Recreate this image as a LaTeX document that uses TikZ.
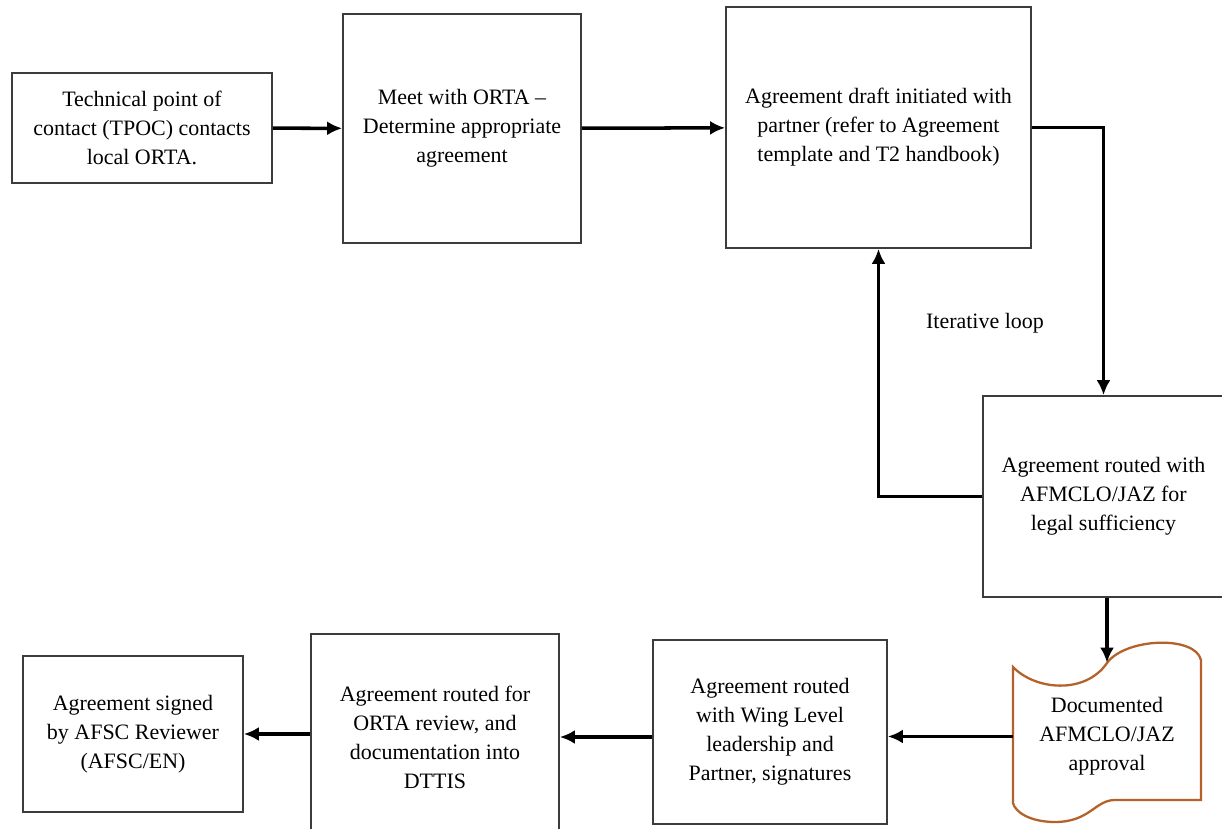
\documentclass[tikz,border=0pt]{standalone}
\usepackage{fontspec}
\setmainfont{Liberation Serif}
\usetikzlibrary{arrows.meta}
\definecolor{docbrown}{HTML}{B5622A}
\definecolor{boxgray}{HTML}{3C3C3C}
\begin{document}
\begin{tikzpicture}[font=\fontsize{12.5}{16.5}\selectfont,
    main/.style = {draw=boxgray, line width=1pt, align=center, inner sep=0pt},
    conn/.style = {line width=2pt, -{Latex[length=3mm,width=2.8mm]}}]
    \useasboundingbox (0,0) rectangle (24.44,-16.58);
    \node[main, minimum width=5.2cm, minimum height=2.2cm] (1) at (2.84,-2.56) {Technical point of\\contact (TPOC) contacts\\local ORTA.};
    \node[main, minimum width=4.76cm, minimum height=4.58cm] (2) at (9.24,-2.57) {Meet with ORTA --\\Determine appropriate\\agreement};
    \node[main, minimum width=6.1cm, minimum height=4.82cm] (3) at (17.57,-2.55) {Agreement draft initiated with\\partner (refer to Agreement\\template and T2 handbook)};
    \node[main, minimum width=4.82cm, minimum height=4.02cm] (4) at (22.07,-9.93) {Agreement routed with\\AFMCLO/JAZ for\\legal sufficiency};
    \node[align=center, minimum width=3.76cm, minimum height=2.94cm, inner sep=0pt] (5) at (22.14,-14.73) {Documented\\AFMCLO/JAZ\\approval};
    \node[main, minimum width=4.68cm, minimum height=3.68cm] (6) at (15.40,-14.64) {Agreement routed\\with Wing Level\\leadership and\\Partner, signatures};
    \node[main, minimum width=4.96cm, minimum height=4.12cm] (7) at (8.70,-14.74) {Agreement routed for\\ORTA review, and\\documentation into\\DTTIS};
    \node[main, minimum width=4.4cm, minimum height=3.12cm] (8) at (2.66,-14.68) {Agreement signed\\by AFSC Reviewer\\(AFSC/EN)};
    \node (loop) at (19.70,-6.46) {Iterative loop};
    \draw[docbrown, line width=1.3pt] (20.26,-13.34) .. controls (20.70,-13.80) and (21.70,-13.90) .. (22.14,-13.26)
        .. controls (22.50,-12.76) and (23.90,-12.70) .. (24.02,-13.20) -- (24.02,-16.00) -- (22.30,-16.00)
        .. controls (21.90,-16.00) and (21.80,-16.44) .. (21.10,-16.44)
        .. controls (20.60,-16.44) and (20.30,-16.24) .. (20.26,-16.06) -- cycle;
    \draw[conn] (1) to (2);
    \draw[conn] (2) to (3);
    \draw[conn] (3.east) -| (4.north);
    \draw[conn] (4.west) -| (3.south);
    \draw[conn] (4.south -| 5.north) to (5.north);
    \draw[conn] (5.west) to (6.east |- 5.west);
    \draw[conn] (6.west |- 7.east) to (7.east);
    \draw[conn] (7.west |- 8.east) to (8.east);
\end{tikzpicture}
\end{document}
